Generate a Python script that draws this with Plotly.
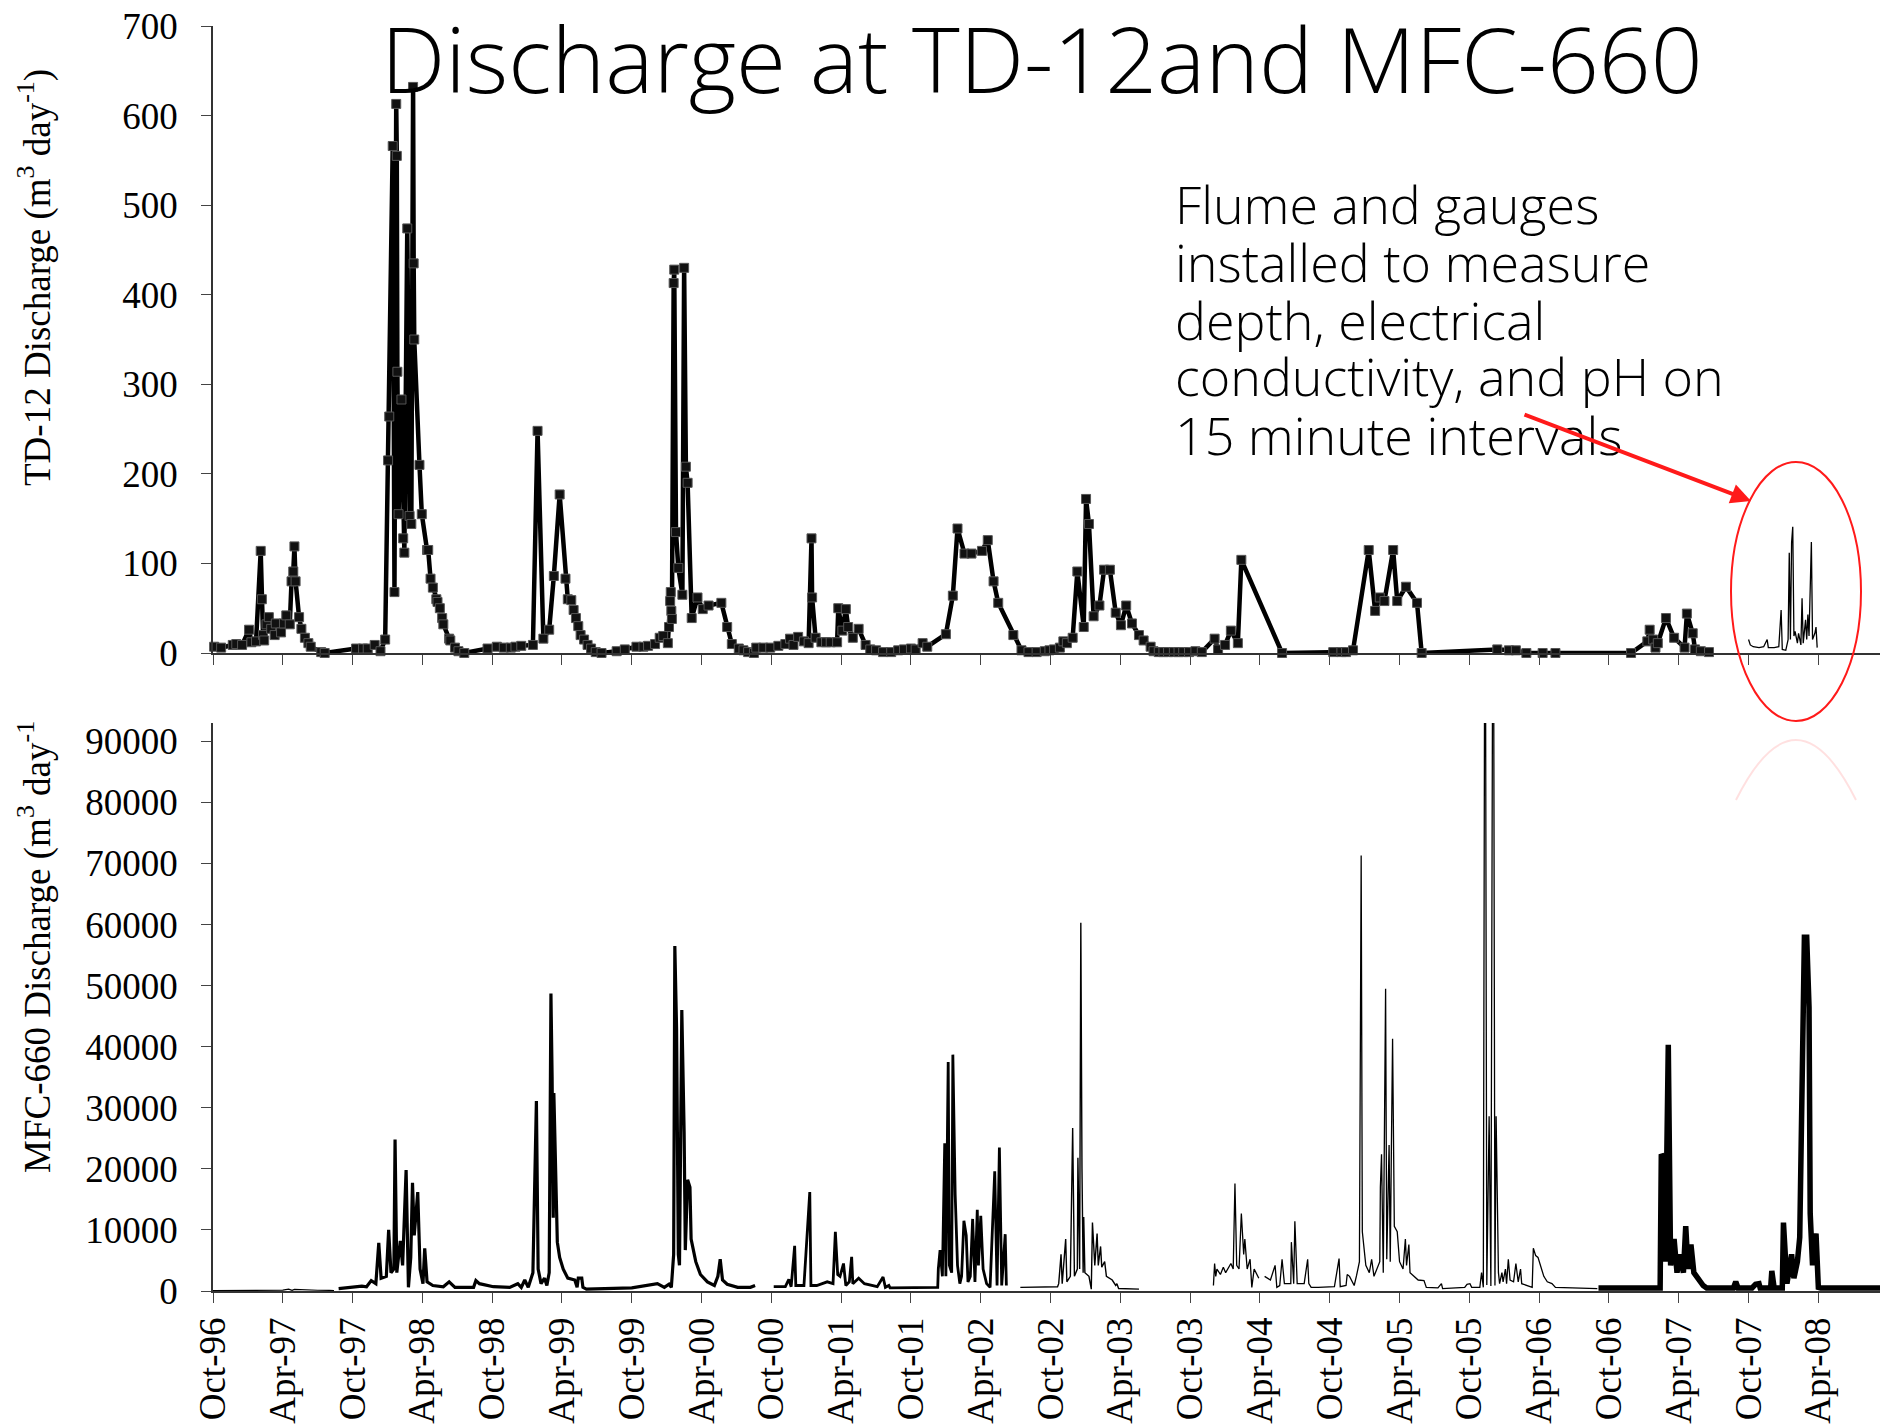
import plotly.graph_objects as go

# ---------------- DATA ----------------
# x values are months since Oct-1996
tick_months = [0, 6, 12, 18, 24, 30, 36, 42, 48, 54, 60, 66, 72, 78, 84, 90, 96, 102, 108, 114, 120, 126, 132, 138]
tick_labels = ["Oct-96", "Apr-97", "Oct-97", "Apr-98", "Oct-98", "Apr-99", "Oct-99", "Apr-00",
               "Oct-00", "Apr-01", "Oct-01", "Apr-02", "Oct-02", "Apr-03", "Oct-03", "Apr-04",
               "Oct-04", "Apr-05", "Oct-05", "Apr-06", "Oct-06", "Apr-07", "Oct-07", "Apr-08"]

# TD-12 discharge (manual measurements), m3/day
td12_month = [0.1, 0.7, 1.7, 2.0, 2.5, 3.1, 3.3, 3.7, 4.1, 4.2, 4.3, 4.4, 4.6, 4.8, 5.0, 5.3, 5.4, 5.85,
              6.1, 6.3, 6.6, 6.75, 6.9, 7.0, 7.1, 7.4, 7.6, 7.9, 8.2, 8.4, 9.3, 9.6,
              12.3, 12.9, 13.3, 13.9, 14.4, 14.8, 15.05, 15.15, 15.45, 15.6, 15.75, 15.8, 15.85, 15.95,
              16.2, 16.35, 16.45, 16.7, 16.9, 17.05, 17.2, 17.25, 17.3, 17.75, 17.95, 18.4, 18.5, 18.7,
              18.9, 19.2, 19.3, 19.5, 19.7, 19.8, 20.3, 20.4, 20.8, 21.1, 21.6,
              23.6, 24.4, 25.0, 25.6, 26.0, 26.5, 27.5, 27.9, 28.4, 28.9, 29.3, 29.8, 30.3, 30.5, 30.8,
              31.0, 31.2, 31.4, 31.6, 31.9, 32.2, 32.5, 32.9, 33.4, 34.7, 35.4,
              36.4, 37.0, 37.4, 38.0, 38.4, 38.7, 39.1, 39.2, 39.3, 39.35, 39.4, 39.45, 39.6, 39.65,
              39.8, 40.0, 40.35, 40.5, 40.65, 40.8, 41.15, 41.65, 42.1, 42.6, 43.7, 44.2, 44.6, 45.2,
              45.6, 46.0, 46.5, 46.7, 47.3, 47.9, 48.6, 49.2, 49.6, 49.9, 50.3, 50.8, 51.2, 51.45,
              51.5, 51.8, 52.3, 52.7, 53.1, 53.65, 53.75, 54.1, 54.4, 54.6, 55.0, 55.5, 56.1, 56.5,
              57.0, 57.6, 58.3, 58.9, 59.4, 60.0, 60.4, 61.0, 61.4, 63.0, 63.6, 64.0, 64.6, 65.2,
              66.1, 66.6, 67.1, 67.5, 68.8, 69.5, 70.1, 70.8, 71.5, 71.9, 72.3, 72.8, 73.1, 73.4,
              73.9, 74.3, 74.85, 75.05, 75.3, 75.7, 76.2, 76.6, 77.1, 77.6, 78.05, 78.5, 79.0, 79.6,
              80.0, 80.6, 80.85, 81.3, 81.7, 82.1, 82.6, 83.0, 83.4, 83.9, 84.45, 85.0, 86.1, 86.4,
              87.0, 87.5, 88.1, 88.4, 91.9, 96.3, 97.0, 97.4, 98.0, 99.35, 99.9, 100.3, 100.7,
              101.45, 101.8, 102.55, 103.5, 103.9, 110.4, 111.4, 112.0, 112.9, 114.3, 115.4, 121.9,
              123.3, 123.5, 123.8, 124.0, 124.2, 124.9, 125.6, 126.5, 126.7, 127.2, 127.4, 127.9, 128.6]
td12_value = [7, 6, 9, 10, 9, 26, 12, 13, 114, 60, 20, 14, 32, 40, 27, 20, 33, 23,
              33, 42, 32, 80, 91, 119, 80, 40, 27, 17, 11, 7, 1, 0,
              5, 5, 5, 9, 2, 15, 215, 264, 566, 68, 613, 555, 314, 155,
              283, 128, 112, 474, 153, 144, 632, 435, 350, 210, 155, 115, 115, 83,
              73, 60, 57, 50, 39, 32, 16, 14, 6, 2, 0,
              5, 7, 6, 6, 7, 8, 9, 248, 16, 26, 86, 177, 83, 60, 59,
              48, 39, 30, 20, 15, 9, 5, 1, 0, 2, 4,
              7, 7, 8, 10, 17, 19, 11, 29, 58, 68, 47, 38, 413, 428,
              135, 95, 65, 430, 208, 190, 39, 62, 49, 53, 56, 29, 10, 5,
              3, 1, 0, 6, 6, 6, 8, 10, 16, 9, 18, 13, 11, 128,
              62, 17, 12, 12, 12, 12, 50, 25, 49, 29, 17, 27, 9, 4,
              3, 1, 1, 3, 4, 5, 4, 11, 7, 21, 64, 139, 111, 111,
              114, 126, 80, 56, 20, 3, 1, 1, 2, 3, 4, 6, 13, 11,
              17, 91, 29, 172, 144, 41, 53, 93, 93, 45, 31, 53, 33, 20,
              14, 7, 2, 1, 1, 1, 1, 1, 1, 1, 2, 1, 16, 4,
              9, 25, 11, 104, 0, 1, 1, 1, 3, 115, 47, 62, 58,
              115, 58, 74, 56, 0, 4, 3, 3, 0, 0, 0, 0,
              13, 26, 15, 6, 11, 39, 17, 6, 44, 22, 4, 2, 1]

# TD-12 flume record (15-minute data), m3/day
flume_month = [132.0, 132.15, 132.4, 132.9, 133.3, 133.6, 133.7, 134.2, 134.6, 134.8, 134.9, 135.2,
               135.4, 135.5, 135.6, 135.7, 135.8, 135.9, 136.0, 136.2, 136.3, 136.5, 136.6, 136.7,
               136.9, 137.0, 137.1, 137.2, 137.4, 137.5, 137.7, 137.8, 137.9]
flume_value = [15, 9, 7, 6, 7, 15, 6, 6, 7, 48, 4, 3,
               15, 112, 15, 123, 141, 19, 24, 11, 22, 9, 61, 11,
               37, 15, 43, 19, 124, 15, 22, 29, 6]

# MFC-660 discharge, m3/day, in recording periods
mfc_a_month = [0, 1, 2, 3, 4, 5, 6, 6.5, 6.8, 7.0, 7.5, 8, 9, 10, 10.4]
mfc_a_value = [50, 60, 80, 60, 100, 150, 150, 300, 100, 250, 200, 150, 120, 100, 80]

mfc_b_month = [10.8, 11.5, 12.3, 12.8, 13.2, 13.6, 14.0, 14.25, 14.45, 14.9, 15.1, 15.3, 15.55, 15.65,
               15.8, 16.1, 16.3, 16.6, 16.8, 17.0, 17.15, 17.3, 17.6, 17.8, 18.05, 18.2, 18.4, 18.9,
               19.8, 20.3, 20.8, 22.4, 22.6, 22.9, 24.1, 25.5, 26.2, 26.5, 26.8, 27.1, 27.5, 27.8,
               27.95, 28.2, 28.5, 28.7, 28.9, 29.05, 29.15, 29.25, 29.3, 29.45, 29.6, 29.8, 30.1,
               30.5, 31.1, 31.3, 31.4, 31.7, 31.8, 32.1, 34.0, 36.0, 38.2, 38.8, 39.2, 39.4, 39.6,
               39.7, 39.85, 40.0, 40.1, 40.3, 40.5, 40.6, 40.8, 41.0, 41.1, 41.5, 41.9, 42.5, 43.1,
               43.4, 43.6, 43.8, 44.2, 45.1, 46.2, 46.6]
mfc_b_value = [400, 500, 600, 800, 700, 1700, 1200, 7900, 2100, 2400, 10000, 3000, 3600, 24800,
               3000, 8200, 4200, 19800, 600, 5500, 17700, 9100, 16200, 3600, 1200, 7000, 1500, 900,
               700, 1500, 600, 600, 1700, 1200, 700, 600, 1200, 600, 1800, 600, 3000, 31100,
               3600, 1200, 2100, 900, 3000, 48700, 35100, 12000, 32400, 20900, 8000, 5500, 3600,
               2100, 1800, 600, 2100, 2100, 600, 300, 400, 500, 1200, 600, 1100, 600, 6000,
               56500, 43000, 6000, 4200, 46000, 26000, 6700, 18200, 17000, 8500, 4800, 2700, 1500, 900,
               2400, 5200, 1800, 1100, 600, 600, 900]

mfc_c_month = [48.2, 49.2, 49.5, 49.7, 50.0, 50.1, 50.8, 51.3, 51.4, 51.9, 52.8, 53.3, 53.5, 53.7,
               53.9, 54.2, 54.4, 54.7, 54.9, 55.0, 55.5, 56.0, 57.1, 57.6, 57.8, 58.1, 58.2, 60.0,
               62.3, 62.35, 62.5, 62.7, 62.9, 63.0, 63.2, 63.3, 63.5, 63.6, 63.8, 64.0, 64.2, 64.35,
               64.55, 64.75, 64.9, 65.1, 65.3, 65.5, 65.7, 65.8, 66.0, 66.2, 66.5, 66.8, 67.2, 67.4,
               67.6, 67.8, 68.1, 68.2]
mfc_c_value = [700, 700, 1900, 700, 7400, 900, 900, 16200, 900, 900, 1500, 1200, 9700, 2700,
               2400, 4500, 900, 1500, 5600, 1200, 2100, 1200, 700, 2300, 600, 900, 500, 500,
               600, 3600, 6700, 2400, 24200, 2400, 37500, 4200, 3000, 38700, 15800, 4200, 1200, 2400,
               11500, 9100, 1500, 2400, 11800, 1500, 13300, 4200, 12300, 3600, 1200, 600, 19600, 900,
               23500, 900, 9300, 900]

mfc_d_month = [69.4, 72.0, 72.6, 72.7, 72.9, 73.0, 73.3, 73.4, 73.7, 73.9, 74.05, 74.3, 74.35, 74.5,
               74.6, 74.7, 74.8, 74.85, 74.95, 75.3, 75.5, 75.6, 75.8, 76.0, 76.1, 76.3, 76.4, 76.65,
               76.8, 77.3, 77.6, 77.7, 77.85, 79.6]
mfc_d_value = [600, 600, 700, 1200, 6000, 1200, 8500, 1500, 2400, 26700, 2400, 3600, 21800, 3600,
               60300, 20000, 3000, 12100, 3000, 2400, 300, 11200, 4200, 9400, 4200, 7300, 3900, 4800,
               2400, 1800, 900, 1200, 400, 300]

mfc_e_month = [86.0, 86.1, 86.2, 86.3, 86.6, 86.85, 87.05, 87.5, 87.7, 87.85, 88.0, 88.2, 88.4, 88.6,
               88.7, 88.9, 89.15, 89.3, 89.5, 89.8, 89.9, None,
               90.4, 90.9, 91.3, 91.45, 91.7, 91.9, 92.1, 92.65, 92.7, 92.9, 93.0, 93.2, 93.8, 94.1,
               94.2, 94.4, 95.0, 96.4, 96.8, 96.9, 97.4, 97.5, 97.7, 98.1, 98.3, 98.55, 98.7, 98.8,
               99.1, 99.4, 99.6, 99.8, 100.3, 100.35, 100.45, 100.6, 100.8, 100.9, 101.1, 101.2, 101.3,
               101.4, 101.55, 101.8, 102.0, 102.3, 102.5, 102.6, 102.8, 102.9, 103.6, 104.1, 104.3,
               105.3, 105.6, 105.7, 107.6, 107.8, 108.05, 108.2, 108.9, 109.05, 109.2, 109.35, 109.5,
               109.7, 109.85, 110.05, 110.2, 110.3, 110.5, 110.6, 110.8, 110.9, 111.1, 111.2, 111.35,
               111.5, 111.8, 112.0, 112.2, 112.4, 112.5, 112.9, 113.4, 113.5, 113.7, 113.9, 114.1,
               114.4, 114.7, 115.1, 115.4, 117.8, 119.0]
mfc_e_value = [900, 4500, 2400, 3600, 2700, 3900, 3000, 4500, 3600, 17600, 4200, 3600, 12700, 6000,
               8500, 3600, 5200, 600, 3600, 2400, 2100, None,
               2400, 1800, 4200, 600, 900, 5200, 1200, 1200, 8000, 1200, 11400, 1200, 1200, 5200,
               1200, 600, 600, 700, 5300, 700, 900, 2700, 2400, 900, 2500, 4800, 71300, 9700,
               4200, 3000, 5200, 2400, 4800, 17000, 22400, 3000, 49500, 5200, 23900, 4800, 23900,
               41300, 10600, 9700, 4800, 3600, 8500, 4200, 7600, 3000, 1800, 1700, 600,
               500, 1200, 400, 600, 1100, 1200, 600, 600, 3000, 600, 140000, 1000,
               28600, 800, 140000, 900, 28600, 3000, 1200, 3000, 1500, 3600, 1200, 5200,
               1800, 1500, 4500, 1500, 3600, 1200, 900, 600, 7000, 5800, 5500, 4200,
               2400, 1500, 1200, 600, 500, 400]

mfc_f_month = [119.1, 124.4, 124.5, 124.7, 124.85, 125.1, 125.3, 125.6, 125.85, 126.1, 126.4, 126.6,
               126.8, 127.05, 127.3, 127.7, 128.1, 128.4, 130.7, 130.9, 131.1, 132.3, 132.6, 132.9,
               133.0, 133.9, 134.0, 134.2, 134.9, 135.0, 135.3, 135.5, 135.7, 135.9, 136.2, 136.4,
               136.6, 136.8, 137.0, 137.2, 137.3, 137.5, 137.7, 137.8, 138.0, 138.2, 143.3]
mfc_f_value = [500, 500, 22400, 21800, 4800, 40300, 4200, 8500, 3000, 6000, 3000, 10600,
               3600, 7600, 3000, 1800, 900, 500, 500, 1500, 500, 500, 1100, 1200,
               500, 500, 3300, 500, 500, 11200, 1200, 3600, 6000, 2100, 4800, 8800,
               37000, 57900, 57900, 46400, 12700, 4200, 8500, 9400, 600, 500, 500]

title_text = "Discharge at TD-12and MFC-660"
note_lines = ["Flume and gauges", "installed to measure", "depth, electrical",
              "conductivity, and pH on", "15 minute intervals"]

# ---------------- FIGURE ----------------
W, H = 1880, 1425
ML, MR, MT, MB = 213, 0, 26, 134
PW, PH = W - ML - MR, H - MT - MB


def px_x(p):
    return (p - ML) / PW


def px_y(p):
    return 1 - (p - MT) / PH


fig = go.Figure()

fig.add_trace(go.Scatter(x=td12_month, y=td12_value, xaxis="x2", yaxis="y2", mode="lines+markers",
                         line=dict(color="black", width=4.5),
                         marker=dict(symbol="square", size=9, color="#111111",
                                     line=dict(color="#555555", width=1)),
                         cliponaxis=False, showlegend=False))
fig.add_trace(go.Scatter(x=flume_month, y=flume_value, xaxis="x2", yaxis="y2", mode="lines",
                         line=dict(color="black", width=1.3), showlegend=False))

segments = [(mfc_a_month, mfc_a_value, 1.2), (mfc_b_month, mfc_b_value, 3.2),
            (mfc_c_month, mfc_c_value, 2.8), (mfc_d_month, mfc_d_value, 1.4),
            (mfc_e_month, mfc_e_value, 1.3), (mfc_f_month, mfc_f_value, 5.5)]
for mm, vv, w in segments:
    fig.add_trace(go.Scatter(x=mm, y=vv, xaxis="x", yaxis="y", mode="lines",
                             line=dict(color="black", width=w), connectgaps=False,
                             showlegend=False))

serif = "Liberation Serif, Times New Roman, serif"
axis_common = dict(showline=True, linecolor="#333333", linewidth=1.5, ticks="outside",
                   ticklen=10, tickwidth=1.3, tickcolor="#444444", showgrid=False, zeroline=False,
                   tickfont=dict(family=serif, size=37, color="black"))

top_dom = [px_y(653), 1]
bot_dom = [0, px_y(723)]

fig.update_layout(
    width=W, height=H, margin=dict(l=ML, r=MR, t=MT, b=MB),
    paper_bgcolor="white", plot_bgcolor="white",
    xaxis=dict(domain=[0, 1], range=[0, 143.3], anchor="y", tickmode="array",
               tickvals=tick_months, ticktext=tick_labels, tickangle=-90, **axis_common),
    xaxis2=dict(domain=[0, 1], range=[0, 143.3], anchor="y2", matches="x", tickmode="array",
                tickvals=tick_months, showticklabels=False, **axis_common),
    yaxis=dict(domain=bot_dom, range=[0, 93000], anchor="x", tickmode="array",
               tickvals=[0, 10000, 20000, 30000, 40000, 50000, 60000, 70000, 80000, 90000],
               ticktext=["0", "10000", "20000", "30000", "40000", "50000", "60000", "70000",
                         "80000", "90000"], ticklabelstandoff=16, **axis_common),
    yaxis2=dict(domain=top_dom, range=[0, 700], anchor="x2", tickmode="array",
                tickvals=[0, 100, 200, 300, 400, 500, 600, 700], ticklabelstandoff=16,
                **axis_common),
)

annotations = []
annotations.append(dict(text=title_text, xref="paper", yref="paper", x=px_x(1042), y=px_y(58),
                        xanchor="center", yanchor="middle", showarrow=False,
                        font=dict(family="Open Sans, sans-serif", size=91, color="black", weight=300)))
line_y = [204, 261, 319, 376, 434]
for t, yy in zip(note_lines, line_y):
    annotations.append(dict(text=t, xref="paper", yref="paper", x=px_x(1173), y=px_y(yy),
                            xanchor="left", yanchor="middle", showarrow=False,
                            font=dict(family="Open Sans, sans-serif", size=52, color="black",
                                      weight=300)))
annotations.append(dict(text="TD-12 Discharge (m<sup>3</sup> day<sup>-1</sup>)", xref="paper",
                        yref="paper", x=px_x(35), y=px_y(278), textangle=-90, xanchor="center",
                        yanchor="middle", showarrow=False,
                        font=dict(family=serif, size=37, color="black")))
annotations.append(dict(text="MFC-660 Discharge (m<sup>3</sup> day<sup>-1</sup>", xref="paper",
                        yref="paper", x=px_x(35), y=px_y(947), textangle=-90, xanchor="center",
                        yanchor="middle", showarrow=False,
                        font=dict(family=serif, size=37, color="black")))
# red arrow
annotations.append(dict(text="", xref="paper", yref="paper", x=px_x(1751), y=px_y(501),
                        ax=1523 - 1751, ay=414 - 501, axref="pixel", ayref="pixel",
                        showarrow=True, arrowhead=2, arrowsize=1, arrowwidth=4,
                        arrowcolor="#FF1A1A"))
fig.update_layout(annotations=annotations)

shapes = [
    dict(type="circle", xref="paper", yref="paper", x0=px_x(1731), x1=px_x(1861),
         y0=px_y(721), y1=px_y(462), line=dict(color="#FF1A1A", width=2)),
    dict(type="path", xref="paper", yref="paper",
         path="M {:.4f} {:.4f} Q {:.4f} {:.4f} {:.4f} {:.4f}".format(
             px_x(1736), px_y(800), px_x(1796), px_y(680), px_x(1856), px_y(800)),
         line=dict(color="rgba(255,0,0,0.12)", width=2)),
]
fig.update_layout(shapes=shapes)

fig.write_html("out.html", config={"displayModeBar": False})
